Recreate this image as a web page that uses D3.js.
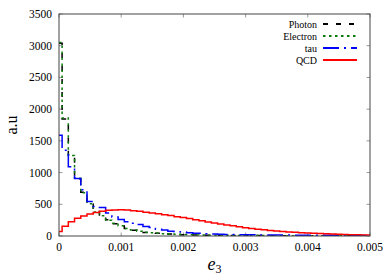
<!DOCTYPE html>
<html>
<head>
<meta charset="utf-8">
<script src="https://cdn.jsdelivr.net/npm/d3@7"></script>
<style>
  html, body { margin: 0; padding: 0; background: #fff; }
  #chart { width: 392px; height: 275px; }
</style>
</head>
<body>
<div id="chart"></div>
<script>
// bin centres (histeps), 0 .. 0.005 step 0.0001
const binCenters = d3.range(0, 51).map(i => +(i * 1e-4).toFixed(4));

const photon   = [3040, 1845, 1280, 900, 690, 505, 385, 315, 255, 195, 158, 120, 92, 77, 56, 49, 43, 34, 31, 25, 21, 20, 16, 15, 13, 11, 11, 10, 9, 8, 7, 7, 6, 5, 5, 5, 4, 4, 4, 4, 3, 3, 3, 2, 2, 2, 2, 2, 1, 1, 1];
const electron = [3050, 1860, 1270, 910, 680, 510, 380, 320, 250, 200, 160, 118, 95, 75, 58, 50, 42, 35, 30, 26, 22, 19, 17, 15, 13, 12, 11, 10, 9, 8, 7, 7, 6, 6, 5, 5, 5, 4, 4, 4, 3, 3, 3, 3, 2, 2, 2, 2, 2, 2, 1];
const tau      = [1590, 1350, 1090, 905, 730, 545, 465, 450, 362, 300, 262, 226, 200, 180, 150, 135, 108, 95, 75, 68, 62, 52, 45, 42, 36, 32, 28, 25, 22, 20, 19, 18, 17, 16, 15, 15, 14, 14, 13, 13, 12, 12, 11, 11, 10, 10, 9, 9, 8, 8, 8];
const qcd      = [70, 155, 225, 280, 315, 345, 370, 390, 405, 410, 412, 410, 400, 390, 375, 362, 350, 335, 322, 305, 290, 275, 258, 240, 222, 205, 190, 175, 160, 145, 132, 120, 108, 97, 88, 79, 72, 65, 58, 52, 46, 42, 38, 34, 30, 27, 24, 21, 19, 17, 15];

const xTicks = [0, 0.001, 0.002, 0.003, 0.004, 0.005];
const xTickLabels = ["0", "0.001", "0.002", "0.003", "0.004", "0.005"];
const yTicks = [0, 500, 1000, 1500, 2000, 2500, 3000, 3500];

const seriesNames = ["Photon", "Electron", "tau", "QCD"];
const seriesValues = [photon, electron, tau, qcd];

const styles = {
    "Photon":   { color: "#000000", dash: "5,8" },
    "Electron": { color: "#0b7a0b", dash: "2.5,3.5" },
    "tau":      { color: "#0000ff", dash: "16,5,2,5" },
    "QCD":      { color: "#ff0000", dash: null }
};

const width = 392, height = 275;
const margin = { top: 14, right: 22, bottom: 39, left: 59 };
const serif = "'Liberation Serif', 'DejaVu Serif', serif";

const svg = d3.select("#chart").append("svg")
    .attr("width", width)
    .attr("height", height)
    .style("font-family", serif);

const x = d3.scaleLinear()
    .domain([0, 0.005])
    .range([margin.left, width - margin.right]);

const y = d3.scaleLinear()
    .domain([0, 3500])
    .range([height - margin.bottom, margin.top]);

svg.append("clipPath").attr("id", "plot-clip")
    .append("rect")
    .attr("x", margin.left).attr("y", margin.top)
    .attr("width", width - margin.left - margin.right)
    .attr("height", height - margin.top - margin.bottom);

// inward ticks on all four sides
const tickLen = 3.5;
const tickColor = "#999";
const ticks = svg.append("g").attr("class", "ticks");

yTicks.forEach(v => {
    ticks.append("line")
        .attr("x1", margin.left).attr("x2", margin.left + tickLen)
        .attr("y1", y(v)).attr("y2", y(v))
        .attr("stroke", tickColor);
    ticks.append("line")
        .attr("x1", width - margin.right).attr("x2", width - margin.right - tickLen)
        .attr("y1", y(v)).attr("y2", y(v))
        .attr("stroke", tickColor);
    svg.append("text")
        .attr("x", margin.left - 7)
        .attr("y", y(v) + 4)
        .attr("text-anchor", "end")
        .attr("fill", "#000")
        .style("font-size", "11.5px")
        .text(v);
});

xTicks.forEach((v, i) => {
    ticks.append("line")
        .attr("x1", x(v)).attr("x2", x(v))
        .attr("y1", height - margin.bottom).attr("y2", height - margin.bottom - tickLen)
        .attr("stroke", tickColor);
    ticks.append("line")
        .attr("x1", x(v)).attr("x2", x(v))
        .attr("y1", margin.top).attr("y2", margin.top + tickLen)
        .attr("stroke", tickColor);
    svg.append("text")
        .attr("x", x(v))
        .attr("y", height - margin.bottom + 15)
        .attr("text-anchor", "middle")
        .attr("fill", "#000")
        .style("font-size", "11.5px")
        .text(xTickLabels[i]);
});

// histogram steps
const line = d3.line()
    .x(d => x(d.x))
    .y(d => y(d.v))
    .curve(d3.curveStep);

const lines = svg.append("g").attr("clip-path", "url(#plot-clip)");

seriesNames.forEach((name, k) => {
    const pts = binCenters.map((c, i) => ({ x: c, v: seriesValues[k][i] }));
    lines.append("path")
        .datum(pts)
        .attr("fill", "none")
        .attr("stroke", styles[name].color)
        .attr("stroke-width", 1.5)
        .attr("stroke-dasharray", styles[name].dash)
        .attr("d", line);
});

// border
svg.append("rect")
    .attr("x", margin.left).attr("y", margin.top)
    .attr("width", width - margin.left - margin.right)
    .attr("height", height - margin.top - margin.bottom)
    .attr("fill", "none")
    .attr("stroke", "#444")
    .attr("stroke-width", 1);

// legend
const legend = svg.append("g").attr("class", "legend");
seriesNames.forEach((name, i) => {
    const ly = 24 + i * 12;
    legend.append("text")
        .attr("x", 317)
        .attr("y", ly + 3.5)
        .attr("text-anchor", "end")
        .attr("fill", "#000")
        .style("font-size", "10px")
        .text(name);
    legend.append("line")
        .attr("x1", 323).attr("x2", 357)
        .attr("y1", ly).attr("y2", ly)
        .attr("stroke", styles[name].color)
        .attr("stroke-width", 1.8)
        .attr("stroke-dasharray", styles[name].dash);
});

// axis labels
const xl = svg.append("text")
    .attr("x", x(0.0025))
    .attr("y", 270)
    .attr("text-anchor", "middle")
    .attr("fill", "#000");
xl.append("tspan").style("font-style", "italic").style("font-size", "18px").text("e");
xl.append("tspan").attr("dy", 3).style("font-size", "12px").text("3");

svg.append("text")
    .attr("transform", `translate(17, ${(margin.top + height - margin.bottom) / 2}) rotate(-90)`)
    .attr("text-anchor", "middle")
    .attr("fill", "#000")
    .style("font-size", "16px")
    .text("a.u");
</script>
</body>
</html>
